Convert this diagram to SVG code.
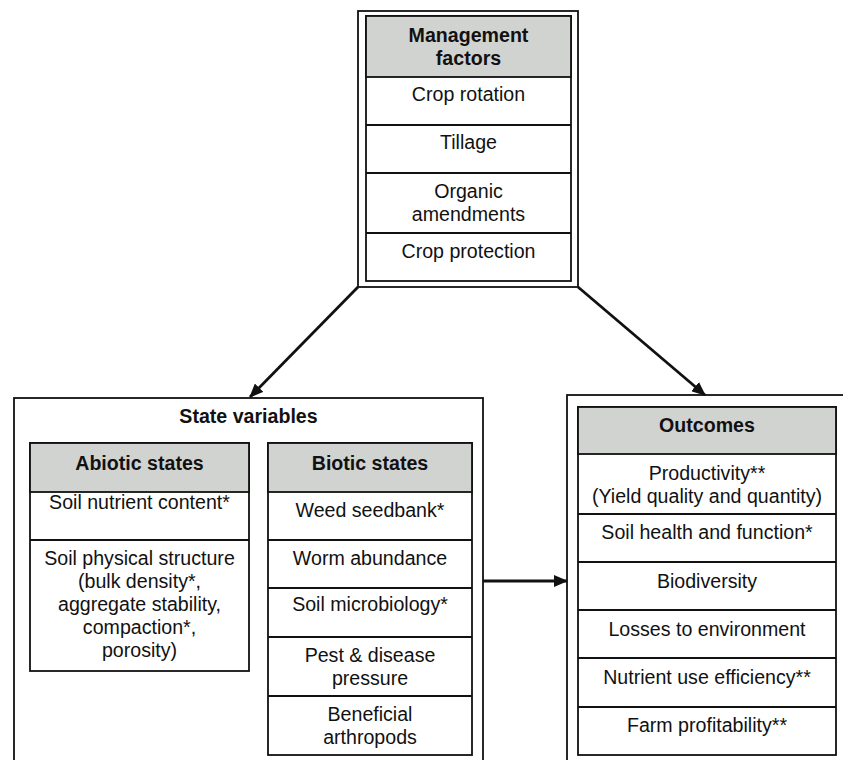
<svg xmlns="http://www.w3.org/2000/svg" width="843" height="760" viewBox="0 0 843 760">
<style>
text{font-family:"Liberation Sans",Arial,sans-serif;font-size:19.6px;fill:#111;text-anchor:middle}
.b{font-weight:bold}
.box{fill:#fff;stroke:#111;stroke-width:1.8}
.hd{fill:#d1d3d1;stroke:#111;stroke-width:1.8}
.row{fill:none;stroke:#111;stroke-width:1.8}
.conn{stroke:#111;stroke-width:2.8;fill:none}
</style>
<defs>
<marker id="ah" markerWidth="10" markerHeight="10" refX="9" refY="5" orient="auto" markerUnits="userSpaceOnUse" viewBox="0 0 10 10">
<path d="M0,0 L10,5 L0,10 z" fill="#111"/>
</marker>
<marker id="ah2" markerWidth="14" markerHeight="12" refX="13" refY="6" orient="auto" markerUnits="userSpaceOnUse" viewBox="0 0 14 12">
<path d="M0,0 L14,6 L0,12 z" fill="#111"/>
</marker>
</defs>
<rect width="843" height="760" fill="#fff"/>

<g id="management">
<rect class="box" x="358" y="11" width="220" height="276"/>
<rect class="box" x="366" y="16" width="205" height="265"/>
<rect class="hd" x="366" y="16" width="205" height="61"/>
<line class="row" x1="366" y1="125" x2="571" y2="125"/>
<line class="row" x1="366" y1="173" x2="571" y2="173"/>
<line class="row" x1="366" y1="233" x2="571" y2="233"/>
<text class="b" x="468.5" y="42">Management</text>
<text class="b" x="468.5" y="65">factors</text>
<text x="468.5" y="101">Crop rotation</text>
<text x="468.5" y="149">Tillage</text>
<text x="468.5" y="198">Organic</text>
<text x="468.5" y="221">amendments</text>
<text x="468.5" y="258">Crop protection</text>
</g>

<g id="state">
<rect class="box" x="14" y="398" width="469" height="380"/>
<text class="b" x="248.5" y="423">State variables</text>
</g>

<g id="abiotic">
<rect class="box" x="30" y="443" width="219" height="228"/>
<rect class="hd" x="30" y="443" width="219" height="49"/>
<line class="row" x1="30" y1="540" x2="249" y2="540"/>
<text class="b" x="139.5" y="470">Abiotic states</text>
<text x="139.5" y="509">Soil nutrient content*</text>
<text x="139.5" y="565">Soil physical structure</text>
<text x="139.5" y="588">(bulk density*,</text>
<text x="139.5" y="611">aggregate stability,</text>
<text x="139.5" y="634">compaction*,</text>
<text x="139.5" y="657">porosity)</text>
</g>

<g id="biotic">
<rect class="box" x="268" y="443" width="204" height="312"/>
<rect class="hd" x="268" y="443" width="204" height="49"/>
<line class="row" x1="268" y1="540" x2="472" y2="540"/>
<line class="row" x1="268" y1="588" x2="472" y2="588"/>
<line class="row" x1="268" y1="637" x2="472" y2="637"/>
<line class="row" x1="268" y1="696" x2="472" y2="696"/>
<text class="b" x="370" y="470">Biotic states</text>
<text x="370" y="517">Weed seedbank*</text>
<text x="370" y="565">Worm abundance</text>
<text x="370" y="611">Soil microbiology*</text>
<text x="370" y="662">Pest &amp; disease</text>
<text x="370" y="685">pressure</text>
<text x="370" y="721">Beneficial</text>
<text x="370" y="744">arthropods</text>
</g>

<g id="outcomes">
<rect class="box" x="567" y="395" width="290" height="380"/>
<rect class="box" x="578" y="407" width="258" height="348"/>
<rect class="hd" x="578" y="407" width="258" height="47"/>
<line class="row" x1="578" y1="514" x2="836" y2="514"/>
<line class="row" x1="578" y1="562" x2="836" y2="562"/>
<line class="row" x1="578" y1="610" x2="836" y2="610"/>
<line class="row" x1="578" y1="658" x2="836" y2="658"/>
<line class="row" x1="578" y1="707" x2="836" y2="707"/>
<text class="b" x="707" y="432">Outcomes</text>
<text x="707" y="480">Productivity**</text>
<text x="707" y="503">(Yield quality and quantity)</text>
<text x="707" y="539">Soil health and function*</text>
<text x="707" y="588">Biodiversity</text>
<text x="707" y="636">Losses to environment</text>
<text x="707" y="684">Nutrient use efficiency**</text>
<text x="707" y="732">Farm profitability**</text>
</g>

<g id="connectors">
<line class="conn" x1="358" y1="287" x2="250" y2="397" marker-end="url(#ah2)"/>
<line class="conn" x1="578" y1="287" x2="705" y2="395" marker-end="url(#ah2)"/>
<line class="conn" x1="483" y1="581" x2="567" y2="581" marker-end="url(#ah2)"/>
</g>
</svg>
